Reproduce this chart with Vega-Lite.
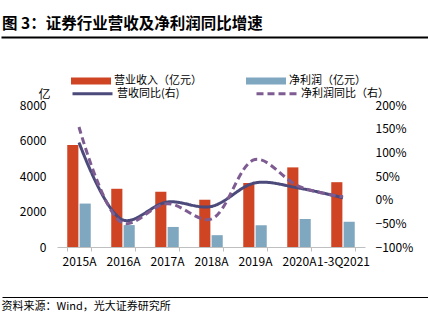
{
  "$schema": "https://vega.github.io/schema/vega-lite/v6.json",
  "width": 428,
  "height": 260,
  "autosize": {"type": "none"},
  "padding": {"left": 0, "top": 37, "right": 0, "bottom": 29},
  "background": "#ffffff",
  "config": {
    "view": {"stroke": null},
    "font": "Noto Sans CJK SC",
    "axis": {"labelFont": "Noto Sans CJK SC", "titleFont": "Noto Sans CJK SC", "labelColor": "#000000", "titleColor": "#000000", "grid": false},
    "legend": {"labelFont": "Noto Sans CJK SC", "labelColor": "#000000", "padding": 0}
  },
  "title": {
    "text": "图 3：证券行业营收及净利润同比增速",
    "anchor": "start",
    "frame": "group",
    "dx": 2,
    "fontSize": 15.5,
    "fontWeight": "bold",
    "font": "Noto Sans CJK SC",
    "color": "#000000",
    "offset": 5
  },
  "datasets": {
    "bars": [
      {"cat": "2015A", "series": "营业收入（亿元）", "value": 5751},
      {"cat": "2016A", "series": "营业收入（亿元）", "value": 3280},
      {"cat": "2017A", "series": "营业收入（亿元）", "value": 3113},
      {"cat": "2018A", "series": "营业收入（亿元）", "value": 2663},
      {"cat": "2019A", "series": "营业收入（亿元）", "value": 3605},
      {"cat": "2020A", "series": "营业收入（亿元）", "value": 4485},
      {"cat": "1-3Q2021", "series": "营业收入（亿元）", "value": 3651},
      {"cat": "2015A", "series": "净利润（亿元）", "value": 2447},
      {"cat": "2016A", "series": "净利润（亿元）", "value": 1234},
      {"cat": "2017A", "series": "净利润（亿元）", "value": 1130},
      {"cat": "2018A", "series": "净利润（亿元）", "value": 666},
      {"cat": "2019A", "series": "净利润（亿元）", "value": 1231},
      {"cat": "2020A", "series": "净利润（亿元）", "value": 1575},
      {"cat": "1-3Q2021", "series": "净利润（亿元）", "value": 1420}
    ],
    "lines": [
      {"cat": "2015A", "series2": "营收同比(右)", "v": 1.2097},
      {"cat": "2016A", "series2": "营收同比(右)", "v": -0.4297},
      {"cat": "2017A", "series2": "营收同比(右)", "v": -0.0508},
      {"cat": "2018A", "series2": "营收同比(右)", "v": -0.1447},
      {"cat": "2019A", "series2": "营收同比(右)", "v": 0.3537},
      {"cat": "2020A", "series2": "营收同比(右)", "v": 0.2441},
      {"cat": "1-3Q2021", "series2": "营收同比(右)", "v": 0.04},
      {"cat": "2015A", "series2": "净利润同比（右）", "v": 1.535},
      {"cat": "2016A", "series2": "净利润同比（右）", "v": -0.4957},
      {"cat": "2017A", "series2": "净利润同比（右）", "v": -0.0847},
      {"cat": "2018A", "series2": "净利润同比（右）", "v": -0.4104},
      {"cat": "2019A", "series2": "净利润同比（右）", "v": 0.8477},
      {"cat": "2020A", "series2": "净利润同比（右）", "v": 0.2798},
      {"cat": "1-3Q2021", "series2": "净利润同比（右）", "v": 0.06}
    ],
    "frame": [{"v": 0}, {"v": 1}]
  },
  "layer": [
    {
      "layer": [
        {
          "data": {"name": "bars"},
          "mark": {"type": "bar"},
          "encoding": {
            "x": {
              "field": "cat", "type": "nominal",
              "scale": {"domain": ["2015A", "2016A", "2017A", "2018A", "2019A", "2020A", "1-3Q2021"], "range": [57, 365], "paddingInner": 0.466, "paddingOuter": 0.233},
              "axis": {"orient": "bottom", "offset": -50, "title": null, "labelAngle": 0, "labelFontSize": 12, "labelPadding": 5, "labelOverlap": false, "domainColor": "#bfbfbf", "domainWidth": 1, "ticks": true, "tickBand": "extent", "tickSize": 4, "tickColor": "#bfbfbf"}
            },
            "xOffset": {"field": "series", "type": "nominal", "scale": {"domain": ["营业收入（亿元）", "净利润（亿元）"], "paddingInner": 0.1}},
            "y": {
              "field": "value", "type": "quantitative",
              "scale": {"domain": [0, 8000], "range": [210, 68], "nice": false},
              "axis": {"orient": "left", "offset": -57, "values": [0, 2000, 4000, 6000, 8000], "format": "d", "domain": false, "ticks": false, "labelPadding": 11, "labelFontSize": 12, "title": "亿", "titleAngle": 0, "titleAlign": "right", "titleBaseline": "middle", "titleX": -7, "titleY": 57, "titleFontSize": 12, "titleFontWeight": "normal"}
            },
            "fill": {
              "field": "series", "type": "nominal",
              "scale": {"domain": ["营业收入（亿元）", "净利润（亿元）"], "range": ["#cf4422", "#7fa8c0"]},
              "legend": {"orient": "none", "legendX": 71, "legendY": 24, "direction": "horizontal", "title": null, "symbolType": "M-1,-0.17L1,-0.17L1,0.17L-1,0.17Z", "symbolSize": 1600, "symbolStrokeWidth": 0, "labelFontSize": 11, "labelOffset": 3, "columnPadding": 44}
            }
          }
        },
        {
          "data": {"name": "lines"},
          "mark": {"type": "line", "interpolate": "catmull-rom", "strokeWidth": 3},
          "encoding": {
            "x": {"field": "cat", "type": "nominal"},
            "y": {
              "field": "v", "type": "quantitative",
              "scale": {"domain": [-1, 2], "range": [210, 68], "nice": false, "zero": false},
              "axis": {"orient": "right", "offset": -63, "values": [-1, -0.5, 0, 0.5, 1, 1.5, 2], "format": ".0%", "domain": false, "ticks": false, "labelPadding": 10, "labelFontSize": 12, "title": null}
            },
            "stroke": {
              "field": "series2", "type": "nominal",
              "scale": {"domain": ["营收同比(右)", "净利润同比（右）"], "range": ["#4c4a7a", "#7e5c92"]},
              "legend": {"orient": "none", "legendX": 71, "legendY": 35, "direction": "horizontal", "title": null, "symbolType": "stroke", "symbolSize": 1600, "symbolStrokeWidth": 3, "labelFontSize": 11, "labelOffset": 3, "columnPadding": 70}
            },
            "strokeDash": {
              "field": "series2", "type": "nominal",
              "scale": {"domain": ["营收同比(右)", "净利润同比（右）"], "range": [[1, 0], [7, 4]]},
              "legend": {"orient": "none", "legendX": 71, "legendY": 35, "direction": "horizontal", "title": null, "symbolType": "stroke", "symbolSize": 1600, "symbolStrokeWidth": 3, "labelFontSize": 11, "labelOffset": 3, "columnPadding": 70}
            }
          }
        }
      ],
      "resolve": {"scale": {"y": "independent"}}
    },
    {
      "data": {"name": "frame"},
      "mark": {"type": "point", "opacity": 0, "size": 0},
      "encoding": {
        "x": {
          "field": "v", "type": "quantitative",
          "scale": {"domain": [0, 1], "range": [1, 428], "nice": false, "zero": false},
          "axis": {"orient": "top", "domain": true, "domainColor": "#000000", "domainWidth": 2, "labels": false, "ticks": false, "title": null, "grid": false}
        }
      }
    },
    {
      "data": {"name": "frame"},
      "mark": {"type": "point", "opacity": 0, "size": 0},
      "encoding": {
        "x": {
          "field": "v", "type": "quantitative",
          "scale": {"domain": [0, 1], "range": [2, 428], "nice": false, "zero": false},
          "axis": {"orient": "bottom", "domain": true, "domainColor": "#000000", "domainWidth": 1, "labels": false, "ticks": false, "grid": false, "title": "资料来源：Wind，光大证券研究所", "titleFontSize": 11, "titleFontWeight": "normal", "titleAnchor": "start", "titleAlign": "left", "titleBaseline": "top", "titleX": 1, "titleY": 3}
        }
      }
    }
  ],
  "resolve": {"scale": {"x": "independent"}}
}
